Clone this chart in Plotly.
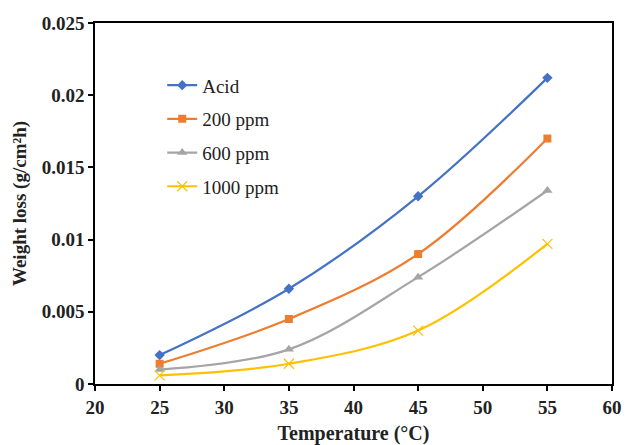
import plotly.graph_objects as go

# Temperature (°C) and weight loss (g/cm²h) for each inhibitor concentration
temperature = [25, 35, 45, 55]
acid = [0.0020, 0.0066, 0.0130, 0.0212]
ppm_200 = [0.0014, 0.0045, 0.0090, 0.0170]
ppm_600 = [0.0010, 0.0024, 0.0074, 0.0134]
ppm_1000 = [0.0006, 0.0014, 0.0037, 0.0097]

x_ticks = [20, 25, 30, 35, 40, 45, 50, 55, 60]
y_ticks = [0, 0.005, 0.01, 0.015, 0.02, 0.025]
y_tick_text = ["0", "0.005", "0.01", "0.015", "0.02", "0.025"]

series = [
    ("Acid", acid, "#4472C4", dict(symbol="diamond", size=8)),
    ("200 ppm", ppm_200, "#ED7D31", dict(symbol="square", size=8)),
    ("600 ppm", ppm_600, "#A5A5A5", dict(symbol="triangle-up", size=9)),
    ("1000 ppm", ppm_1000, "#FFC000",
     dict(symbol="x-thin-open", size=10, line=dict(width=1.2, color="#FFC000"))),
]

fig = go.Figure()
for i, (name, vals, color, marker) in enumerate(series):
    fig.add_trace(go.Scatter(
        x=temperature, y=vals, name=name, mode="lines+markers",
        line=dict(color=color, width=2.2, shape="spline", smoothing=1),
        marker=dict(color=color, **marker),
        legendgroup=f"g{i}",
    ))

font_family = "Liberation Serif, Times New Roman, serif"
axis_common = dict(
    showline=True, mirror=True, linecolor="#000", linewidth=1.5,
    ticks="outside", ticklen=5, tickwidth=1.5, tickcolor="#000",
    showgrid=False, zeroline=False, automargin=False,
    tickfont=dict(family=font_family, size=19, color="#222", weight="bold"),
)

fig.update_layout(
    width=625, height=445,
    margin=dict(l=95, r=13, t=23, b=61),
    paper_bgcolor="white", plot_bgcolor="white",
    font=dict(family=font_family, color="#222"),
    xaxis=dict(range=[20, 60], tickvals=x_ticks,
               title=dict(text="<b>Temperature (°C)</b>", standoff=12,
                          font=dict(family=font_family, size=20, color="#222")),
               **axis_common),
    yaxis=dict(range=[0, 0.025], tickvals=y_ticks, ticktext=y_tick_text,
               title=dict(text="<b>Weight loss (g/cm²h)</b>", standoff=10,
                          font=dict(family=font_family, size=19, color="#222")),
               **axis_common),
    legend=dict(x=0.13, y=0.88, xanchor="left", yanchor="top",
                bgcolor="rgba(0,0,0,0)", tracegroupgap=6,
                font=dict(family=font_family, size=19, color="#222")),
    showlegend=True,
)

fig.write_html("out.html")
